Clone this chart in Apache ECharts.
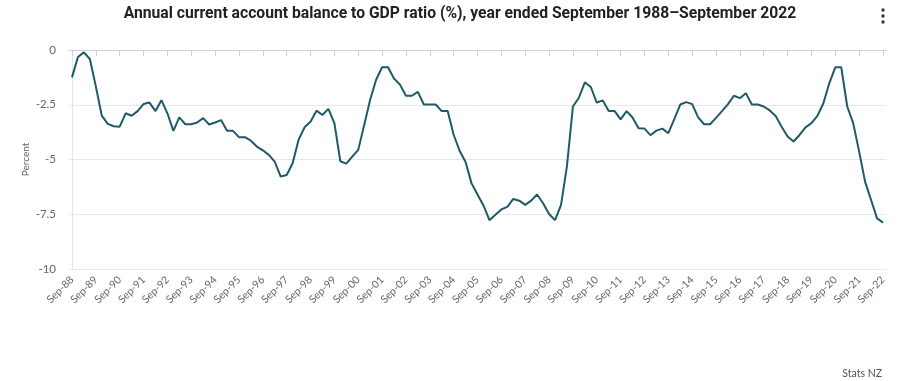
<!DOCTYPE html>
<html>
<head>
<meta charset="utf-8">
<script src="https://cdn.jsdelivr.net/npm/echarts@6/dist/echarts.min.js"></script>
<style>html,body{margin:0;padding:0;background:#fff;}#c{width:900px;height:381px;}</style>
</head>
<body>
<div id="c"></div>
<script>
// Quarterly periods, Sep-1988 .. Sep-2022
const startYear = 1988;
const endYear = 2022;
const quarterMonths = ['Sep', 'Dec', 'Mar', 'Jun'];
const tickLabelEvery = 4;

// Annual current account balance to GDP ratio (%)
const values = [
  -1.25, -0.32, -0.11, -0.41, -1.66, -3.0, -3.37, -3.48, -3.5, -2.89,
  -3.0, -2.79, -2.47, -2.4, -2.79, -2.29, -2.89, -3.69, -3.08, -3.39,
  -3.39, -3.31, -3.11, -3.4, -3.31, -3.2, -3.69, -3.69, -3.98, -3.98,
  -4.14, -4.41, -4.58, -4.79, -5.1, -5.78, -5.71, -5.17, -4.1, -3.53,
  -3.28, -2.77, -2.97, -2.69, -3.34, -5.08, -5.19, -4.87, -4.56, -3.43,
  -2.27, -1.36, -0.79, -0.79, -1.3, -1.58, -2.09, -2.09, -1.91, -2.49,
  -2.49, -2.49, -2.79, -2.79, -3.87, -4.6, -5.11, -6.09, -6.6, -7.1,
  -7.77, -7.52, -7.28, -7.16, -6.8, -6.88, -7.07, -6.88, -6.6, -7.0,
  -7.49, -7.77, -7.08, -5.3, -2.58, -2.18, -1.48, -1.69, -2.4, -2.3,
  -2.79, -2.79, -3.17, -2.79, -3.08, -3.57, -3.59, -3.89, -3.68, -3.59,
  -3.8, -3.16, -2.49, -2.38, -2.47, -3.08, -3.39, -3.39, -3.1, -2.79,
  -2.47, -2.09, -2.2, -1.97, -2.49, -2.49, -2.58, -2.76, -3.01, -3.5,
  -3.95, -4.18, -3.88, -3.53, -3.34, -3.01, -2.43, -1.51, -0.79, -0.79,
  -2.58, -3.34, -4.64, -6.02, -6.85, -7.69, -7.88
];

const yTicks = [0, -2.5, -5, -7.5, -10];

// build category labels
const categories = [];
for (let y = startYear; y <= endYear; y++) {
  for (let q = 0; q < 4; q++) {
    const yr = (q < 2) ? y : y + 1;
    if (y === endYear && q > 0) break;
    categories.push(quarterMonths[q] + '-' + String(yr).slice(2));
  }
}

const seriesData = values.map((v, i) => [i, v]);
const tickIdx = [];
for (let i = 0; i < categories.length; i += tickLabelEvery) tickIdx.push(i);

const chart = echarts.init(document.getElementById('c'), null, {renderer: 'canvas'});
const font = 'Lato, "Open Sans", sans-serif';
chart.setOption({
  animation: false,
  backgroundColor: '#fff',
  title: {
    text: 'Annual current account balance to GDP ratio (%), year ended September 1988\u2013September 2022',
    left: 455, top: 1, textAlign: 'center',
    textStyle: {fontFamily: 'Roboto, sans-serif', fontWeight: 'bold', fontSize: 15.7, color: '#222'}
  },
  graphic: [
    {type: 'circle', shape: {cx: 883, cy: 10, r: 1.7}, style: {fill: '#333'}},
    {type: 'circle', shape: {cx: 883, cy: 16, r: 1.7}, style: {fill: '#333'}},
    {type: 'circle', shape: {cx: 883, cy: 22, r: 1.7}, style: {fill: '#333'}},
    {type: 'text', right: 18, bottom: 2, style: {text: 'Stats NZ', fontFamily: font, fontSize: 10.5, fill: '#555'}}
  ],
  grid: {left: 69, right: 14, top: 50, bottom: 112},
  xAxis: {
    type: 'value', min: -0.5, max: categories.length - 0.5,
    axisLine: {show: true, lineStyle: {color: '#ccd0d6', width: 1}},
    axisTick: {show: true, customValues: tickIdx, length: 6, lineStyle: {color: '#ccd0d6'}},
    splitLine: {show: false},
    axisLabel: {
      customValues: tickIdx, rotate: 45, fontFamily: font, fontSize: 10.5, color: '#666', margin: 9,
      formatter: v => categories[Math.round(v)] || ''
    }
  },
  yAxis: {
    type: 'value', min: -10, max: 0, interval: 2.5,
    name: 'Percent', nameLocation: 'middle', nameGap: 38, nameRotate: 90, nameMoveOverlap: false,
    nameTextStyle: {fontFamily: font, fontSize: 10, color: '#666'},
    axisLine: {show: true, lineStyle: {color: '#e3e5e8'}},
    axisTick: {show: false},
    axisLabel: {fontFamily: font, fontSize: 11.5, color: '#666', margin: 13,
      formatter: v => yTicks.includes(v) ? String(v) : ''},
    splitLine: {lineStyle: {color: '#e8e8e8', width: 1}}
  },
  series: [{
    type: 'line', data: seriesData, showSymbol: false, symbol: 'none',
    lineStyle: {color: '#1e5a68', width: 2}, itemStyle: {color: '#1e5a68'}
  }]
});
</script>
</body>
</html>
